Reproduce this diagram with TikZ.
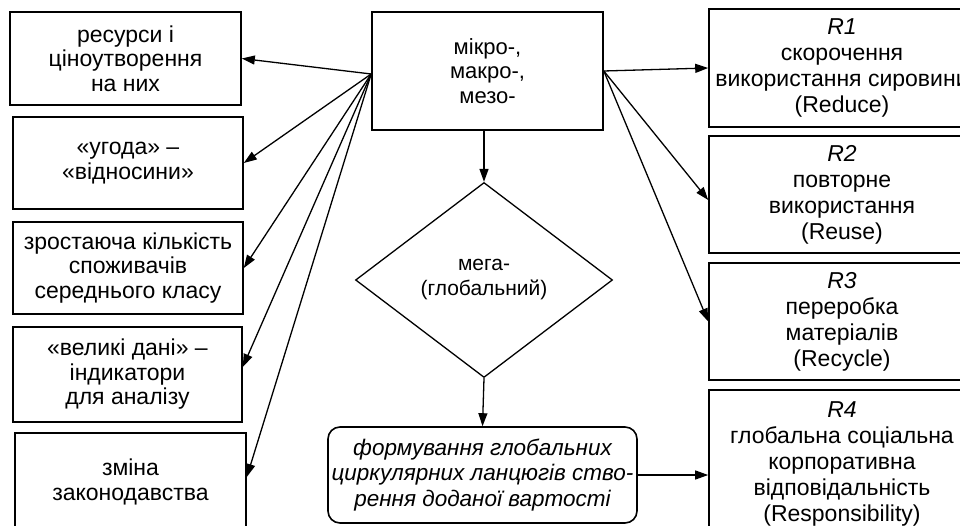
\documentclass[tikz,border=0pt]{standalone}
\usepackage{fontspec}
\setmainfont{Liberation Sans}
\usetikzlibrary{arrows.meta, shapes.geometric}

\begin{document}
\begin{tikzpicture}[x=1pt, y=-1pt,
        every node/.style={font=\fontsize{23}{24.5}\selectfont, align=center, inner sep=0pt},
        leftbox/.style={draw, line width=1.6pt, minimum width=230pt, minimum height=93pt},
        rbox/.style={draw, line width=1.6pt, minimum width=266pt, minimum height=117pt, font=\fontsize{23}{26}\selectfont},
        link/.style={-{Triangle[length=13pt, width=9pt]}, line width=1.3pt}]

        \useasboundingbox (0,0) rectangle (960,526);
        \clip (0,0) rectangle (960,526);

        \node[leftbox, minimum width=231pt] (res) at (125.5,58.5) {ресурси і\\ціноутворення\\на них};
        \node[leftbox, minimum height=92pt] (ugoda) at (128,163) {«угода» –\\«відносини»};
        \node[leftbox, minimum height=92pt] (zrost) at (128,268) {зростаюча кількість\\споживачів\\середнього класу};
        \node[leftbox, minimum width=229pt, minimum height=95pt] (dani) at (127.5,374.5) {«великі дані» –\\індикатори\\для аналізу};
        \node[leftbox, minimum width=231pt, minimum height=98pt] (zmina) at (130.5,482) {зміна\\законодавства};

        \node[draw, line width=1.6pt, minimum width=231pt, minimum height=118pt,
              font=\fontsize{22}{24.5}\selectfont] (mkm) at (487.5,71) {мікро-,\\макро-,\\мезо-};
        \node[draw, diamond, line width=1.3pt, minimum width=257pt, minimum height=195pt,
              font=\fontsize{21}{25}\selectfont] (mega) at (484,280) {мега-\\(глобальний)};
        \node[draw, rounded corners=12pt, line width=1.6pt, minimum width=309pt, minimum height=96pt,
              font=\fontsize{22.5}{25.5}\selectfont\itshape] (form) at (482.5,475)
              {формування глобальних\\циркулярних ланцюгів ство-\\рення доданої вартості};

        \node[rbox, minimum height=118pt] (r1) at (842,68) {\textit{R1}\\скорочення\\використання сировини\\(Reduce)};
        \node[rbox] (r2) at (842,194.5) {\textit{R2}\\повторне\\використання\\(Reuse)};
        \node[rbox] (r3) at (842,321.5) {\textit{R3}\\переробка\\матеріалів\\(Recycle)};
        \node[rbox, minimum height=147pt] (r4) at (842,463.5) {\textit{R4}\\глобальна соціальна\\корпоративна\\відповідальність\\(Responsibility)};

        \coordinate (lhub) at ([yshift=-3pt]mkm.west);
        \foreach \n in {res, ugoda, zrost}
            \draw[link] (lhub) -- (\n.east);
        \draw[link] (lhub) -- ([yshift=7.5pt]dani.east);
        \draw[link] (lhub) -- ([yshift=5pt]zmina.east);

        \draw[link] (mkm.east) -- (r1.west);
        \draw[link] (mkm.east) -- ([yshift=-5.5pt]r2.west);
        \draw[link] (mkm.east) -- (r3.west);

        \draw[link] (mkm.south -| mega.north) -- (mega.north);
        \draw[link] (mega.south) -- (form.north);
        \draw[link] (form.east) -- (form.east -| r4.west);

    \end{tikzpicture}
\end{document}
